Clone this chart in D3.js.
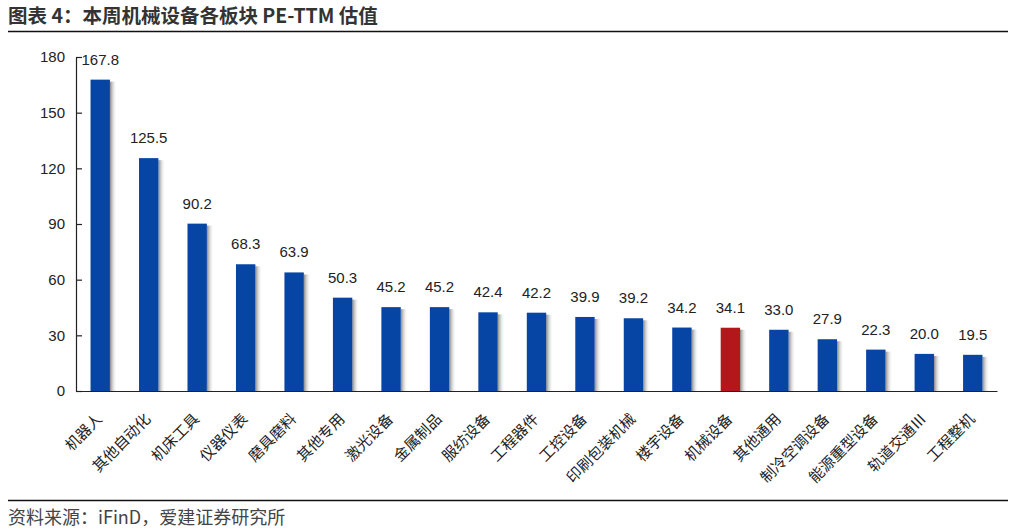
<!DOCTYPE html>
<html><head><meta charset="utf-8">
<script src="https://cdn.jsdelivr.net/npm/d3@7"></script>
<style>
body{margin:0;background:#fff;}
svg{display:block;}
</style></head>
<body>
<script>
const categories = ["机器人","其他自动化","机床工具","仪器仪表","磨具磨料","其他专用","激光设备","金属制品","服纺设备","工程器件","工控设备","印刷包装机械","楼宇设备","机械设备","其他通用","制冷空调设备","能源重型设备","轨道交通Ⅲ","工程整机"];
const values = [167.8,125.5,90.2,68.3,63.9,50.3,45.2,45.2,42.4,42.2,39.9,39.2,34.2,34.1,33.0,27.9,22.3,20.0,19.5];
const highlight = ["机械设备"];
const yTicks = [0,30,60,90,120,150,180];
const titleText = "图表 4：本周机械设备各板块 PE-TTM 估值";
const sourceText = "资料来源：iFinD，爱建证券研究所";

const W = 1017, H = 532;
const svg = d3.select("body").append("svg").attr("width", W).attr("height", H);
const cjk = "'Noto Sans CJK SC','Noto Sans',sans-serif";
const num = "'Liberation Sans',Arial,sans-serif";

const defs = svg.append("defs");
const grad = defs.append("linearGradient").attr("id","shadow").attr("x1","0").attr("x2","1").attr("y1","0").attr("y2","0");
grad.append("stop").attr("offset","0").attr("stop-color","#7a7a7a").attr("stop-opacity",0.9);
grad.append("stop").attr("offset","1").attr("stop-color","#ffffff").attr("stop-opacity",0);

// Title
svg.append("text").attr("x", 8).attr("y", 23).text(titleText)
  .attr("font-family", cjk).attr("font-weight", "bold").attr("font-size", 19.5).attr("fill", "#333");
svg.append("line").attr("x1", 8).attr("x2", 1008).attr("y1", 31.5).attr("y2", 31.5).attr("stroke", "#111").attr("stroke-width", 1.5);
svg.append("line").attr("x1", 8).attr("x2", 1008).attr("y1", 500.5).attr("y2", 500.5).attr("stroke", "#111").attr("stroke-width", 1.5);
svg.append("text").attr("x", 8).attr("y", 524).text(sourceText)
  .attr("font-family", cjk).attr("font-size", 18).attr("fill", "#444");

const x = d3.scaleBand().domain(categories).range([76, 997]).paddingInner(0.6).paddingOuter(0.3);
const y = d3.scaleLinear().domain([0, 180]).range([391, 57]);

const g = svg.append("g");
const data = categories.map((c, i) => ({c, v: values[i]}));

// shadows
g.selectAll("rect.sh").data(data).join("rect").attr("class","sh")
  .attr("x", d => x(d.c) + x.bandwidth())
  .attr("y", d => y(d.v) + 2)
  .attr("width", 7)
  .attr("height", d => y(0) - y(d.v) - 2)
  .attr("fill", "url(#shadow)");

g.selectAll("rect.bar").data(data).join("rect").attr("class","bar")
  .attr("x", d => x(d.c))
  .attr("y", d => y(d.v))
  .attr("width", x.bandwidth())
  .attr("height", d => y(0) - y(d.v))
  .attr("fill", d => highlight.includes(d.c) ? "#B3171B" : "#0645A3");

g.selectAll("text.val").data(data).join("text").attr("class","val")
  .attr("x", d => x(d.c) + x.bandwidth()/2)
  .attr("y", d => y(d.v) - 15)
  .attr("text-anchor", "middle")
  .attr("font-family", num).attr("font-size", 15).attr("fill", "#222")
  .text(d => d.v.toFixed(1));

// Y axis
const yAxis = d3.axisLeft(y).tickValues(yTicks).tickSize(-6).tickPadding(11).tickSizeOuter(0);
const ya = svg.append("g").attr("transform", "translate(76,0)").call(yAxis);
ya.select(".domain").attr("stroke", "#222").attr("stroke-width", 1.2);
ya.selectAll(".tick line").attr("stroke", "#222").attr("stroke-width", 1.2);
ya.selectAll(".tick text").attr("font-family", num).attr("font-size", 15).attr("fill", "#222");

// X axis
const xAxis = d3.axisBottom(x).tickSize(0).tickSizeOuter(0).tickPadding(0);
const xa = svg.append("g").attr("transform", "translate(0,391)").call(xAxis);
xa.select(".domain").attr("stroke", "#222").attr("stroke-width", 1.2);
xa.selectAll(".tick text")
  .attr("font-family", cjk).attr("font-size", 15).attr("fill", "#222")
  .attr("text-anchor", "end")
  .attr("dy", null).attr("y", 0).attr("x", 0)
  .attr("transform", "translate(3,29) rotate(-45)");
</script>
</body></html>
